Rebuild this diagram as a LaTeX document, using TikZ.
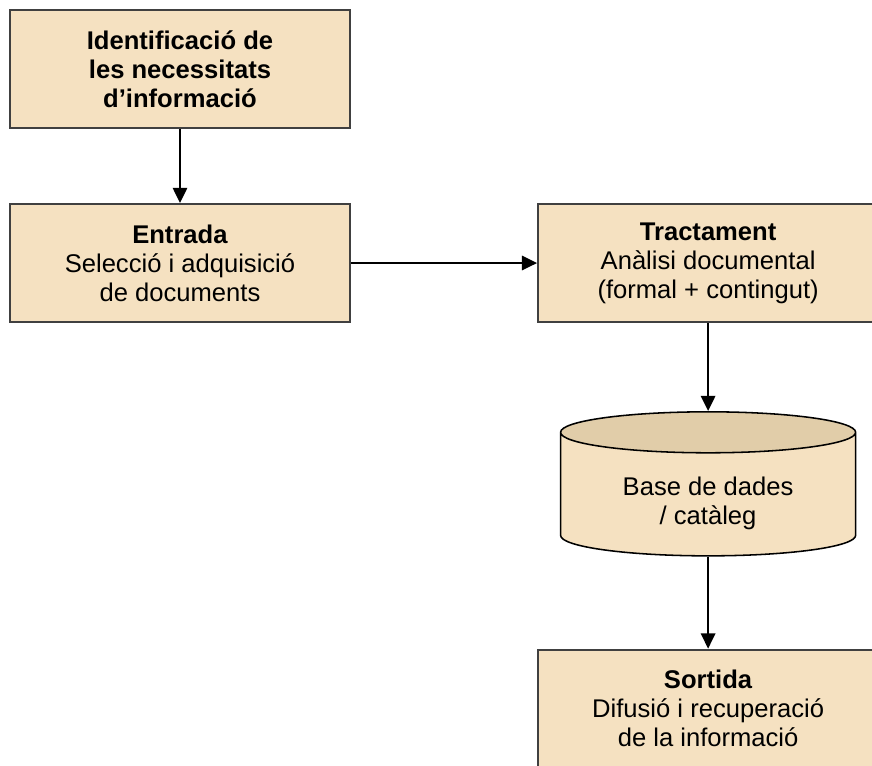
\documentclass[tikz,border=0pt]{standalone}
\usepackage{fontspec}
\setmainfont{Liberation Sans}
\usetikzlibrary{arrows.meta,positioning,shapes.geometric}
\definecolor{boxfill}{HTML}{F5E1C1}
\definecolor{dbtop}{HTML}{E1CDA9}
\definecolor{edge}{HTML}{404040}

\begin{document}
\begin{tikzpicture}[
    x=0.025cm, y=0.025cm,
    box/.style={rectangle,draw=edge,fill=boxfill,line width=1.4pt,align=center,minimum width=8.5cm,minimum height=2.95cm,inner sep=0pt,font=\fontsize{18.2}{20.6}\selectfont},
    db/.style={cylinder,shape border rotate=90,aspect=0.24,draw=black,line width=1.1pt,cylinder uses custom fill,cylinder body fill=boxfill,cylinder end fill=dbtop,align=center,minimum width=7.375cm,minimum height=3.6cm,inner sep=0pt,font=\fontsize{18.2}{20.6}\selectfont},
    link/.style={-{Triangle[width=3.6mm,length=3.8mm]},line width=1.3pt},
    ]
  \useasboundingbox (0,0) rectangle (872,765);
  \node[box] (need) at (180,696) {\textbf{Identificació de}\\\textbf{les necessitats}\\\textbf{d’informació}};
  \node[box,below=1.85cm of need] (input) {\textbf{Entrada}\\Selecció i adquisició\\de documents};
  \node[box,right=4.65cm of input] (treat) {\textbf{Tractament}\\Anàlisi documental\\(formal + contingut)};
  % text sits a little below the middle of the cylinder
  \node[db,below=2.2cm of treat] (base) {\mbox{}\\[5pt]Base de dades\\/ catàleg};
  \node[box,below=2.3cm of base] (output) {\textbf{Sortida}\\Difusió i recuperació\\de la informació};
  % connectors
  \draw[link] (need) -- (input);
  \draw[link] (input) -- (treat);
  \draw[link] (treat) -- (base);
  \draw[link] (base) -- (output);
\end{tikzpicture}
\end{document}
